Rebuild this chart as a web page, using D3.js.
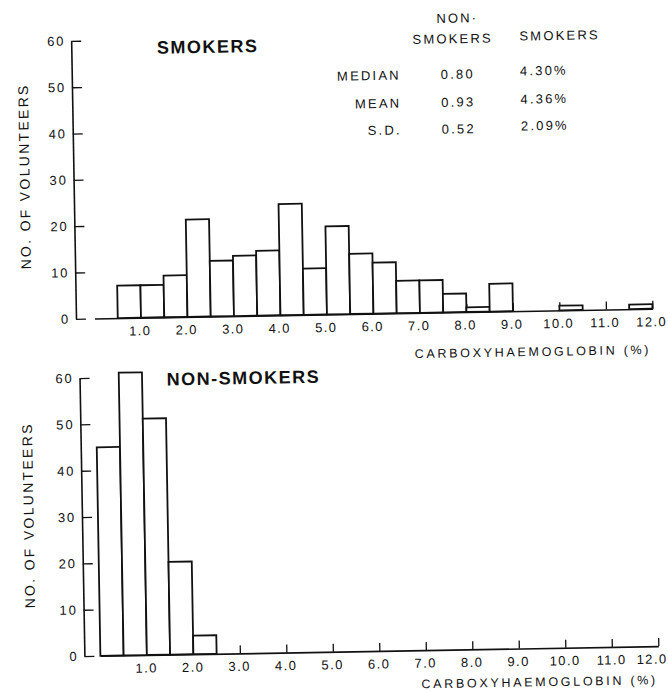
<!DOCTYPE html>
<html><head><meta charset="utf-8">
<script src="https://cdn.jsdelivr.net/npm/d3@7"></script>
<style>
html,body{margin:0;padding:0;background:#fff;}
svg{display:block;}
text{font-family:"Liberation Sans",Arial,Helvetica,sans-serif;fill:#111;}
</style></head><body>
<svg id="chart" width="668" height="691"></svg>
<script>
// ---- data ----
const binWidth = 0.5;
const smokersCounts = [0,7,7,9,21,12,13,14,24,10,19,13,11,7,7,4,1,6,0,0,1,0,0,1];
const nonSmokersCounts = [45,61,51,20,4];
const xTickValues = [1,2,3,4,5,6,7,8,9,10,11,12];
const xTickLabels = ["1.0","2.0","3.0","4.0","5.0","6.0","7.0","8.0","9.0","10.0","11.0","12.0"];
const yTickValues = [0,10,20,30,40,50,60];
const panelTitles = ["SMOKERS","NON-SMOKERS"];
const yAxisTitle = "NO. OF VOLUNTEERS";
const xAxisTitle = "CARBOXYHAEMOGLOBIN (%)";
const statLabels = ["MEDIAN","MEAN","S.D."];
const statHeaderNon = ["NON·","SMOKERS"];
const statHeaderSmk = "SMOKERS";
const nonSmokerStats = ["0.80","0.93","0.52"];
const smokerStats = ["4.30%","4.36%","2.09%"];

// ---- layout ----
const svg = d3.select("#chart");
const root = svg.append("g").attr("transform","rotate(-1,334,345)");
const INK = "#111";

const panels = [
  {counts: smokersCounts, title: panelTitles[0], y0: 314.3, y60: 36.4, axisX: 76.5, labelDx: -1.5, lastDx: -1.5,
   titleX: 162, titleY: 50.8, yTitleX: 32.4, yTitleY: 171, xTitleX: 651, xTitleY: 359.5},
  {counts: nonSmokersCounts, title: panelTitles[1], y0: 651.7, y60: 373.6, axisX: 79, labelDx: -1, lastDx: -7,
   titleX: 166, titleY: 382.5, yTitleX: 30.5, yTitleY: 510, xTitleX: 652, xTitleY: 689.8}
];

const x = d3.scaleLinear().domain([0,12]).range([95,653]);

panels.forEach(p => {
  const y = d3.scaleLinear().domain([0,60]).range([p.y0, p.y60]);
  const g = root.append("g");

  // x axis (baseline + upward ticks)
  const xa = g.append("g").attr("transform",`translate(0,${p.y0})`)
    .call(d3.axisBottom(x).tickValues(xTickValues).tickSize(-8).tickSizeOuter(0)
      .tickPadding(8.3).tickFormat((d,i)=>xTickLabels[i]));
  xa.select(".domain").attr("stroke",INK).attr("stroke-width",1.6);
  xa.selectAll(".tick line").attr("stroke",INK).attr("stroke-width",1.3);
  xa.selectAll(".tick text").attr("font-size",13).attr("letter-spacing","1.4px")
    .attr("dx",(d,i)=> i === xTickValues.length-1 ? p.lastDx : p.labelDx)
    .attr("font-family","'Liberation Sans',Arial,sans-serif").attr("fill",INK);

  // y axis (ticks pointing inward)
  const ya = g.append("g").attr("transform",`translate(${p.axisX},0)`)
    .call(d3.axisLeft(y).tickValues(yTickValues).tickSize(-10).tickSizeOuter(0).tickPadding(6));
  ya.select(".domain").attr("stroke",INK).attr("stroke-width",1.6);
  ya.selectAll(".tick line").attr("stroke",INK).attr("stroke-width",1.3);
  ya.selectAll(".tick text").attr("font-size",13).attr("letter-spacing","1.8px")
    .attr("font-family","'Liberation Sans',Arial,sans-serif").attr("fill",INK);

  // bars
  const bars = p.counts.map((c,i)=>({x0:i*binWidth, x1:(i+1)*binWidth, c})).filter(d=>d.c>0);
  g.append("g").selectAll("rect").data(bars).join("rect")
    .attr("x",d=>x(d.x0)).attr("width",d=>x(d.x1)-x(d.x0))
    .attr("y",d=>y(d.c)).attr("height",d=>y(0)-y(d.c))
    .attr("fill","#fff").attr("stroke",INK).attr("stroke-width",1.8);

  // titles
  g.append("text").attr("x",p.titleX).attr("y",p.titleY)
    .attr("font-size",18).attr("font-weight","bold").attr("letter-spacing","1.5px")
    .text(p.title);
  g.append("text").attr("transform",`translate(${p.yTitleX},${p.yTitleY}) rotate(-90)`)
    .attr("text-anchor","middle").attr("font-size",14).attr("letter-spacing","2.3px")
    .text(yAxisTitle);
  g.append("text").attr("x",p.xTitleX).attr("y",p.xTitleY).attr("text-anchor","end")
    .attr("font-size",12.5).attr("letter-spacing","2.7px")
    .text(xAxisTitle);
});

// ---- statistics table ----
const tbl = root.append("g").attr("font-size",13).attr("letter-spacing","2.2px");
tbl.append("text").attr("x",463).attr("y",24.8).attr("text-anchor","middle").text(statHeaderNon[0]);
tbl.append("text").attr("x",458).attr("y",45.4).attr("text-anchor","middle").text(statHeaderNon[1]);
tbl.append("text").attr("x",565).attr("y",43.9).attr("text-anchor","middle").text(statHeaderSmk);
const rowY = [80.8, 108.8, 135.6];
const rowY2 = [78.7, 107, 133.7];
tbl.selectAll(".lab").data(statLabels).join("text").attr("class","lab")
  .attr("x",405.5).attr("y",(d,i)=>rowY[i]).attr("text-anchor","end").text(d=>d);
tbl.selectAll(".ns").data(nonSmokerStats).join("text").attr("class","ns")
  .attr("x",462.5).attr("y",(d,i)=>rowY[i]).attr("text-anchor","middle").text(d=>d);
tbl.selectAll(".sm").data(smokerStats).join("text").attr("class","sm")
  .attr("x",524.7).attr("y",(d,i)=>rowY2[i]).attr("text-anchor","start").text(d=>d);
</script>
</body></html>
